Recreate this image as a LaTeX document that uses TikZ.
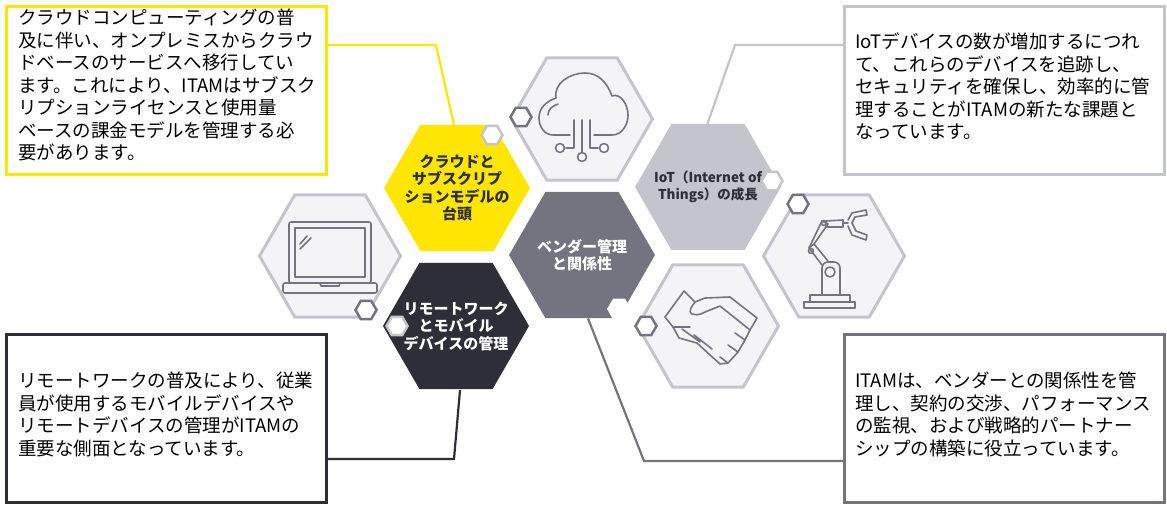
\documentclass[tikz,border=0pt]{standalone}
\usepackage{fontspec}
\setmainfont{Noto Sans CJK JP}
\usetikzlibrary{shapes.geometric,positioning}
\definecolor{eyyellow}{HTML}{FFE600}
\definecolor{eydark}{HTML}{2E2E38}
\definecolor{eygray}{HTML}{747480}
\definecolor{eylight}{HTML}{C4C4CD}
\definecolor{eypale}{HTML}{F4F4F7}
\tikzset{
  hexbox/.style={regular polygon,regular polygon sides=6,minimum size=146pt,inner sep=0pt},
  hexlabel/.style={align=center,inner sep=0pt,font=\fontsize{15}{17.5}\selectfont\bfseries},
  iconhex/.style={regular polygon,regular polygon sides=6,minimum size=141pt,inner sep=0pt,
    fill=eypale,draw=eylight,line width=3pt},
  badge/.style={regular polygon,regular polygon sides=6,minimum size=21pt,inner sep=0pt,
    fill=white,draw=eygray,line width=2.5pt},
  textbox/.style={draw,line width=2.5pt,fill=white,minimum width=320pt,minimum height=168pt,
    inner sep=0pt,anchor=north west},
  boxtext/.style={anchor=north west,align=left,font=\fontsize{18.5}{22.5}\selectfont,inner sep=0pt},
  icon/.style={draw=eygray,line width=1.6pt,line join=round,line cap=round},
  link/.style={line width=2.2pt}
}
\begin{document}
\begin{tikzpicture}[x=1pt,y=-1pt]
  \useasboundingbox (0,0) rectangle (1167,506);
  % icon hexagons
  \node[iconhex] (cloudhex) at (582,119) {};
  \node[iconhex] (laptophex) at (330,256) {};
  \node[iconhex] (robothex) at (834,256) {};
  \node[iconhex] (handhex) at (708,326) {};
  % topic hexagons
  \node[hexbox,fill=eyyellow] (cloudtopic) at (457,188) {};
  \node[hexbox,fill=eygray] (vendor) at (582,255) {};
  \node[hexbox,fill=eydark] (remote) at (456,326) {};
  \node[hexbox,fill=eylight] (iot) at (708,187) {};
  \node[hexlabel,text=eydark] (cloudlabel) at (cloudtopic) {クラウドと\\サブスクリプ\\ションモデルの\\台頭};
  \node[hexlabel,text=white] (vendorlabel) at (vendor) {ベンダー管理\\と関係性};
  \node[hexlabel,text=white] (remotelabel) at (remote) {リモートワーク\\とモバイル\\デバイスの管理};
  \node[hexlabel,text=eydark,font=\fontsize{13.5}{17.5}\selectfont\bfseries] (iotlabel) at (iot) {IoT（Internet of\\Things）の成長};
  % badges
  \node[badge,draw=eylight] (b1) at (492,135) {};
  \node[badge] (b2) at (521,117) {};
  \node[badge,draw=eylight] (b3) at (772,181) {};
  \node[badge] (b4) at (798,204) {};
  \node[badge] (b5) at (366,310) {};
  \node[badge,draw=eylight] (b6) at (397,326) {};
  \node[badge,draw=white] (b7) at (619,309) {};
  \node[badge] (b8) at (646,326) {};
  % text boxes
  \node[textbox,draw=eyyellow] (cloudbox) at (5,5) {};
  \node[boxtext] at (18,9) {クラウドコンピューティングの普\\及に伴い、オンプレミスからクラウ\\ドベースのサービスへ移行してい\\ます。これにより、ITAMはサブスク\\リプションライセンスと使用量\\ベースの課金モデルを管理する必\\要があります。};
  \node[textbox,draw=eylight] (iotbox) at (843,5) {};
  \node[boxtext] at (855,33) {IoTデバイスの数が増加するにつれ\\て、これらのデバイスを追跡し、\\セキュリティを確保し、効率的に管\\理することがITAMの新たな課題と\\なっています。};
  \node[textbox,draw=eydark] (remotebox) at (5,333) {};
  \node[boxtext] at (18,372) {リモートワークの普及により、従業\\員が使用するモバイルデバイスや\\リモートデバイスの管理がITAMの\\重要な側面となっています。};
  \node[textbox,draw=eygray] (vendorbox) at (843,333) {};
  \node[boxtext] at (855,372) {ITAMは、ベンダーとの関係性を管\\理し、契約の交渉、パフォーマンス\\の監視、および戦略的パートナー\\シップの構築に役立っています。};
  % connectors
  \draw[link,eyyellow] (cloudbox.east |- 0,45) -- (436,45) -- (454,125);
  \draw[link,eylight] (iotbox.west |- 0,45) -- (735,45) -- (707,125);
  \draw[link,eydark] (remotebox.east |- 0,459) -- (454,459) -- (460,390);
  \draw[link,eygray] (vendor.south) ++(6,0) -- (644,461) -- (vendorbox.west |- 0,461);
  % cloud icon
  \draw[icon] (570,135) -- (553,135) to[out=180,in=270] (539,118) to[out=90,in=200] (556,98)
    to[out=100,in=180] (585,73) to[out=0,in=110] (612,96) to[out=20,in=90] (628,115)
    to[out=270,in=0] (612,135) -- (594,135);
  \draw[icon] (548,115) to[out=90,in=200] (558,104);
  \draw[icon] (574,120) -- (574,148) -- (566,148);
  \draw[icon] (560,148) circle (4.5);
  \draw[icon] (582,120) -- (582,152);
  \draw[icon] (582,157) circle (4.5);
  \draw[icon] (590,120) -- (590,148) -- (598,148);
  \draw[icon] (604,148) circle (4.5);
  % laptop icon
  \draw[icon,rounded corners=2pt] (289,222) rectangle (371,283);
  \draw[icon] (295,228) rectangle (365,277);
  \draw[icon,rounded corners=2pt] (283,283) rectangle (377,293);
  \draw[icon] (320,283) -- (321,286) -- (339,286) -- (340,283);
  \draw[icon] (300,244) -- (307,236) (300,249) -- (311,238);
  % robot icon
  \draw[icon] (804,302) rectangle (855,308);
  \draw[icon] (810,295) rectangle (850,302);
  \draw[icon,rounded corners=6pt] (822,295) -- (822,262) -- (840,262) -- (840,295);
  \draw[icon] (830,272) circle (5);
  \draw[icon] (822,265) -- (809,248) -- (814,244) -- (828,261);
  \draw[icon] (809,248) -- (822,221) -- (828,224) -- (814,244);
  \draw[icon] (826,221) -- (843,220) -- (843,227) -- (826,227);
  \draw[icon] (811,251) circle (2.5) (824,223) circle (2.5);
  \draw[icon] (843,223) -- (848,223);
  \draw[icon] (848,220) -- (852,213) -- (866,210) -- (867,215) -- (855,217) -- (852,223);
  \draw[icon] (848,226) -- (852,235) -- (866,240) -- (867,235) -- (856,231) -- (852,223);
  % handshake icon
  \draw[icon] (665,317) -- (684,291) -- (695,302) -- (705,298) -- (730,297) -- (757,318) -- (750,330);
  \draw[icon] (695,302) to[out=230,in=160] (692,314) to[out=-20,in=200] (710,310) -- (720,306) -- (750,330)
    -- (745,340) -- (735,333);
  \draw[icon] (745,340) -- (738,352) -- (728,345);
  \draw[icon] (738,352) -- (728,363) -- (720,357);
  \draw[icon] (665,317) -- (673,327) to[out=0,in=180] (690,327);
  \draw[icon] (673,327) -- (679,338) -- (697,343) -- (710,355) -- (720,364) -- (728,363);
  \draw[icon] (682,329) -- (700,342) (694,335) -- (712,349);
\end{tikzpicture}
\end{document}
